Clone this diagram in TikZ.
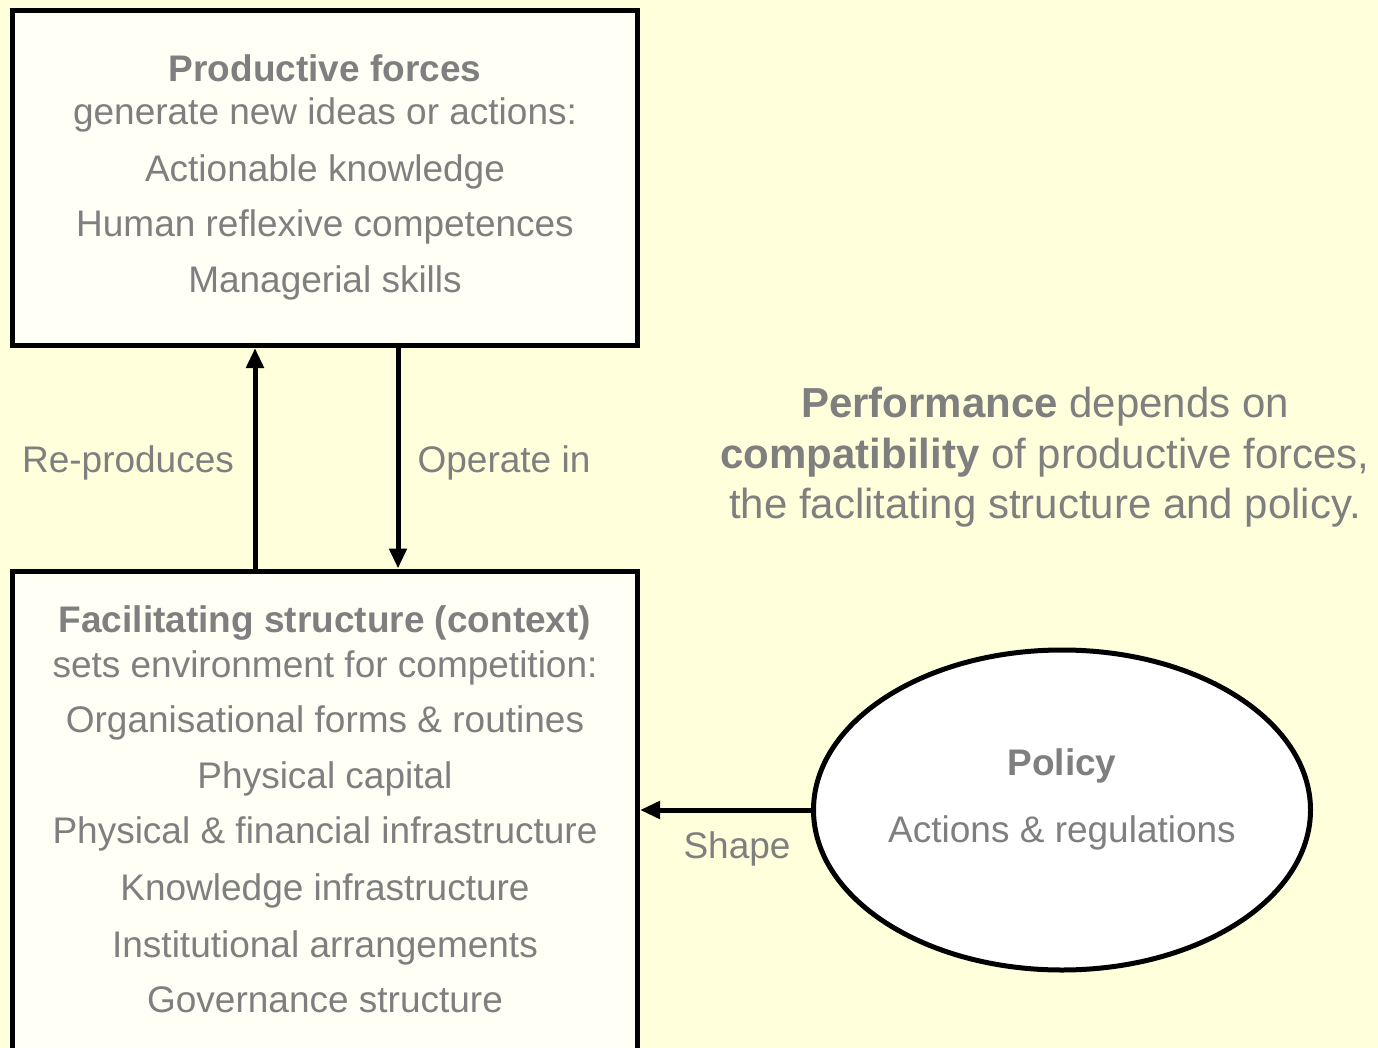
\documentclass[tikz,border=0pt]{standalone}
\usepackage{fontspec}
\setmainfont{Liberation Sans}
\usetikzlibrary{arrows.meta,shapes.geometric}
\definecolor{bgyellow}{HTML}{FFFFDC}
\definecolor{boxfill}{HTML}{FFFFF6}
\definecolor{textgray}{HTML}{7F7F7F}
\begin{document}
\begin{tikzpicture}[x=1pt,y=-1pt,
  txt/.style={text=textgray, font=\fontsize{37}{44}\selectfont, anchor=base, inner sep=0pt},
  hd/.style={txt, font=\bfseries\fontsize{37}{44}\selectfont},
  big/.style={text=textgray, font=\fontsize{42}{50}\selectfont, anchor=base, inner sep=0pt},
  panel/.style={draw=black, line width=5pt, fill=boxfill, rectangle, inner sep=0pt},
  oval/.style={draw=black, line width=5pt, fill=white, ellipse, inner sep=0pt},
  link/.style={line width=5pt, -{Triangle[width=17pt,length=20pt]}},
]
% canvas
\useasboundingbox (0,0) rectangle (1378,1048);
\clip (0,0) rectangle (1378,1048);
\fill[bgyellow] (0,0) rectangle (1378,1048);

% boxes
\node[panel, minimum width=625pt, minimum height=335pt] (pf) at (325,178) {};
\node[panel, minimum width=625pt, minimum height=500pt] (fs) at (325,821) {};
\node[oval, minimum width=497pt, minimum height=320pt] (pol) at (1062,810) {};

% productive forces
\node[hd]  (pf1) at (325,82)  {Productive forces};
\node[txt] (pf2) at (325,125) {generate new ideas or actions:};
\node[txt] (pf3) at (325,182) {Actionable knowledge};
\node[txt] (pf4) at (325,237) {Human reflexive competences};
\node[txt] (pf5) at (325,293) {Managerial skills};

% facilitating structure
\node[hd]  (fs1) at (325,632)  {Facilitating structure (context)};
\node[txt] (fs2) at (325,677)  {sets environment for competition:};
\node[txt] (fs3) at (325,732)  {Organisational forms \& routines};
\node[txt] (fs4) at (325,788)  {Physical capital};
\node[txt] (fs5) at (325,843)  {Physical \& financial infrastructure};
\node[txt] (fs6) at (325,900)  {Knowledge infrastructure};
\node[txt] (fs7) at (325,957)  {Institutional arrangements};
\node[txt] (fs8) at (325,1012) {Governance structure};

% policy
\node[hd]  (po1) at (1062,775) {Policy};
\node[txt] (po2) at (1062,842) {Actions \& regulations};

% statement
\node[big] (st1) at (1045,417) {\textbf{Performance} depends on};
\node[big] (st2) at (1045,468) {\textbf{compatibility} of productive forces,};
\node[big] (st3) at (1045,518) {the faclitating structure and policy.};

% connectors
\draw[link] (255,0 |- fs.north) -- (255,0 |- pf.south);
\draw[link] (398,0 |- pf.south) -- (398,0 |- fs.north);
\draw[link] (pol.west) -- (pol.west -| fs.east);

% connector labels
\node[txt] (lb1) at (128,472) {Re-produces};
\node[txt] (lb2) at (504,472) {Operate in};
\node[txt] (lb3) at (737,858) {Shape};
\end{tikzpicture}
\end{document}
